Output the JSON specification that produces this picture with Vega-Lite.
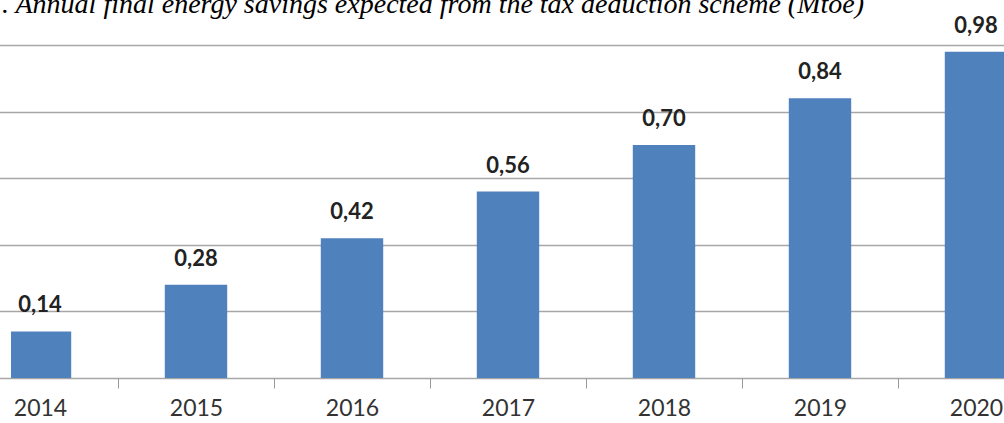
{
  "$schema": "https://vega.github.io/schema/vega-lite/v6.json",
  "width": 993,
  "height": 333,
  "autosize": {"type": "none"},
  "padding": {"left": 11, "top": 45, "right": 0, "bottom": 45},
  "background": "white",
  "title": {
    "text": ". Annual final energy savings expected from the tax deduction scheme (Mtoe)",
    "anchor": "start",
    "frame": "group",
    "font": "Liberation Serif",
    "fontStyle": "italic",
    "fontWeight": "normal",
    "fontSize": 28,
    "color": "#000000",
    "baseline": "alphabetic",
    "offset": 5,
    "dx": -9,
    "dy": 31
  },
  "config": {
    "view": {"stroke": null},
    "locale": {"number": {"decimal": ",", "thousands": ".", "grouping": [3], "currency": ["", " €"]}}
  },
  "data": {
    "values": [
      {"year": "2014", "savings": 0.14},
      {"year": "2015", "savings": 0.28},
      {"year": "2016", "savings": 0.42},
      {"year": "2017", "savings": 0.56},
      {"year": "2018", "savings": 0.70},
      {"year": "2019", "savings": 0.84},
      {"year": "2020", "savings": 0.98}
    ]
  },
  "encoding": {
    "x": {
      "field": "year",
      "type": "ordinal",
      "scale": {"range": [-49, 1043], "paddingInner": 0, "paddingOuter": 0},
      "axis": {
        "title": null,
        "domain": false,
        "tickBand": "extent",
        "ticks": true,
        "tickSize": 10,
        "tickColor": "#999999",
        "labelAngle": 0,
        "labelFont": "Lato",
        "labelFontSize": 23,
        "labelColor": "#333333",
        "labelPadding": 9,
        "grid": false
      }
    },
    "y": {
      "field": "savings",
      "type": "quantitative",
      "scale": {"domain": [0, 1], "nice": false},
      "axis": {
        "title": null,
        "labels": false,
        "ticks": false,
        "domain": false,
        "values": [0, 0.2, 0.4, 0.6, 0.8, 1.0],
        "grid": true,
        "gridColor": "#a6a6a6",
        "gridWidth": 1.5
      }
    }
  },
  "layer": [
    {
      "mark": {"type": "bar", "color": "#4F81BD", "width": {"band": 0.4}, "clip": true}
    },
    {
      "mark": {
        "type": "text",
        "font": "Lato",
        "fontSize": 22,
        "fontWeight": "bold",
        "color": "#222222",
        "baseline": "alphabetic",
        "dy": -19
      },
      "encoding": {
        "text": {"field": "savings", "type": "quantitative", "format": ".2f"}
      }
    }
  ]
}
